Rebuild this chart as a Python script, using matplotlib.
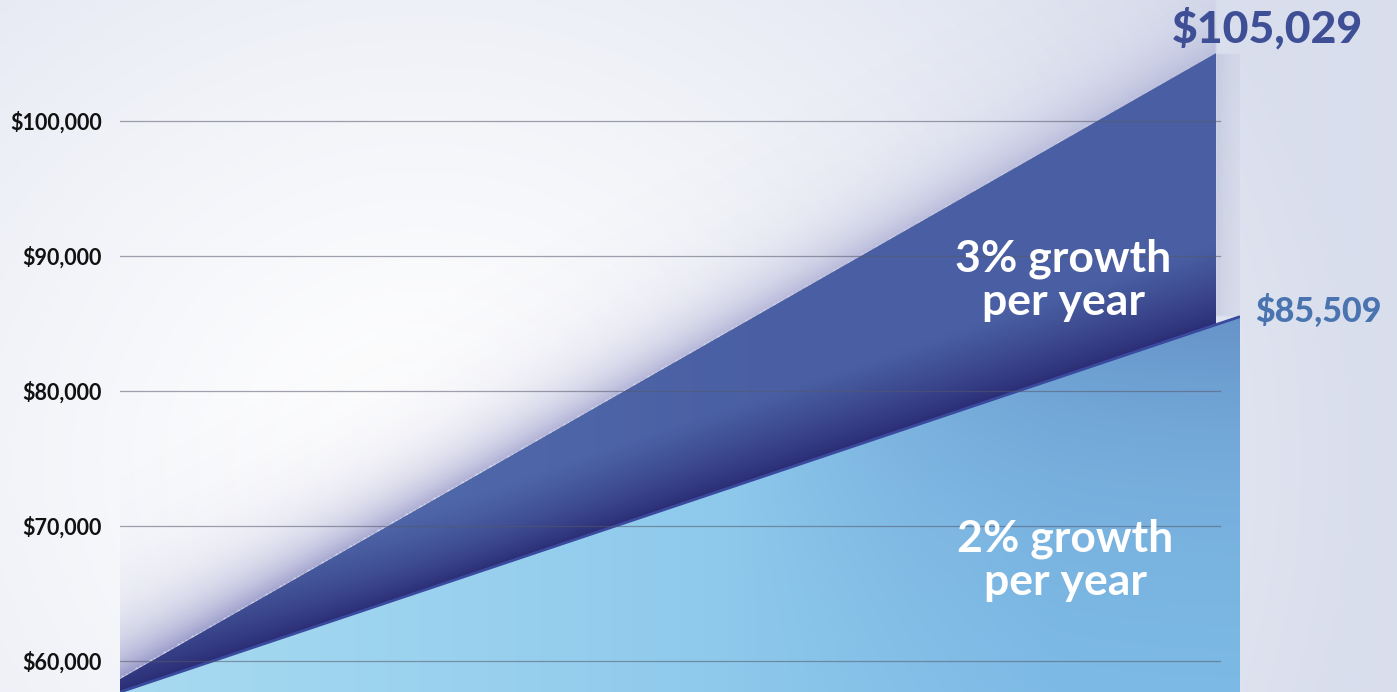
import matplotlib
matplotlib.use("Agg")  # headless
import matplotlib.pyplot as plt
import numpy as np
from matplotlib.patches import Polygon
from matplotlib.colors import to_rgb

# ── data
years = np.array([0, 20])
salary_3pct = [57650, 105029]
salary_2pct = [57700, 85509]
tick_values = [60000, 70000, 80000, 90000, 100000]
tick_labels = ["$60,000", "$70,000", "$80,000", "$90,000", "$100,000"]
end_labels = ["$105,029", "$85,509"]
series_labels = ["3% growth\nper year", "2% growth\nper year"]

W, H = 1397, 692
Y_MIN, Y_MAX = 57704, 108963
SHIFT = 24 / 56          # dark block sits 24 px left of the light one (3D look)
PX_PER_DOLLAR = 135 / 10000

plt.rcParams["font.family"] = ["Lato", "DejaVu Sans"]

fig = plt.figure(figsize=(W / 100, H / 100), dpi=100)


def lerp(c0, c1, t):
    c0, c1 = np.array(to_rgb(c0)), np.array(to_rgb(c1))
    return c0 + (c1 - c0) * np.asarray(t)[..., None]


# ── soft background
bg = fig.add_axes([0, 0, 1, 1])
bg.set_axis_off()
yy, xx = np.mgrid[0:H:4, 0:W:4]
d = np.clip(np.hypot(xx - 420, (yy - 460) * 1.1) / 950, 0, 1) ** 1.3
bg.imshow(lerp("#ffffff", "#d9deed", d), extent=(0, W, H, 0), aspect="auto",
          interpolation="bilinear")
bg.set_xlim(0, W)
bg.set_ylim(H, 0)

# ── main axes
ax = fig.add_axes([120 / W, 0, 1120 / W, 1])
ax.patch.set_alpha(0)
ax.set_xlim(0, 20)
ax.set_ylim(Y_MIN, Y_MAX)
for s in ax.spines.values():
    s.set_visible(False)

x_dark = years - SHIFT
X, Y = np.meshgrid(np.linspace(0, 20, 560), np.linspace(Y_MIN, Y_MAX, 346))
light_top = np.interp(X, years, salary_2pct)
dark_top = np.interp(X, x_dark, salary_3pct, left=salary_3pct[0] - 20000)
u = X / 20
ext = (0, 20, Y_MIN, Y_MAX)

# haze above the dark block
above = (Y - dark_top) * PX_PER_DOLLAR
haze_a = np.where((above > 0) & (X <= x_dark[-1]),
                  0.6 * np.exp(-above / 40) * (1 - 0.6 * u), 0)
haze = np.dstack([lerp("#5a5ca8", "#5a5ca8", u), haze_a])
ax.imshow(haze, extent=ext, origin="lower", aspect="auto", zorder=1,
          interpolation="bilinear")

# shadow to the right of the dark block
right = (X - x_dark[-1]) * 56
sh_a = np.where((right > 0) & (Y > salary_2pct[-1]) & (Y < salary_3pct[-1]),
                0.25 * np.exp(-right / 20), 0)
shadow = np.dstack([lerp("#8088b8", "#8088b8", u), sh_a])
ax.imshow(shadow, extent=ext, origin="lower", aspect="auto", zorder=1,
          interpolation="bilinear")

# dark (3%) block
dark_poly = Polygon([(x_dark[0], Y_MIN - 5000)] + list(zip(x_dark, salary_3pct)) +
                    [(x_dark[-1], Y_MIN - 5000)], closed=True,
                    transform=ax.transData, facecolor="none", edgecolor="none")
ax.add_patch(dark_poly)
dpx = (Y - light_top) * PX_PER_DOLLAR
w = np.clip(dpx / 80, 0, 1) ** 0.8
dark_img = lerp("#2a2c74", "#4a5fa3", w)
dark_img = dark_img + (np.array(to_rgb("#5876b4")) - dark_img) * \
    (0.35 * np.exp(-((u - 0.3) / 0.18) ** 2) * w)[..., None]
im = ax.imshow(dark_img, extent=ext, origin="lower", aspect="auto", zorder=2,
               interpolation="bilinear")
im.set_clip_path(dark_poly)

# light (2%) block
light_poly = Polygon([(years[0], Y_MIN - 5000)] + list(zip(years, salary_2pct)) +
                     [(years[-1], Y_MIN - 5000)], closed=True,
                     transform=ax.transData, facecolor="none", edgecolor="none")
ax.add_patch(light_poly)
light_img = lerp("#a8dbf1", "#80bfe9", np.clip(u * 1.2, 0, 1))
top_dist = (light_top - Y) * PX_PER_DOLLAR
light_img = light_img + (np.array(to_rgb("#6692c8")) - light_img) * \
    (np.clip((u - 0.55) / 0.45, 0, 1) * np.exp(-top_dist / 180))[..., None]
im2 = ax.imshow(light_img, extent=ext, origin="lower", aspect="auto", zorder=3,
                interpolation="bilinear")
im2.set_clip_path(light_poly)
ax.plot(years, salary_2pct, color="#3a4a9e", lw=2, zorder=3.5,
        solid_capstyle="butt")

# ── grid + ticks
for v in tick_values:
    ax.axhline(v, xmin=0, xmax=1100 / 1120, color="#55586a", lw=0.9,
               alpha=0.55, zorder=5)
ax.set_xticks([])
ax.set_yticks(tick_values, tick_labels)
ax.tick_params(axis="y", length=0, pad=13, labelsize=15.5)
for lab in ax.get_yticklabels():
    lab.set_fontweight("bold")
    lab.set_color("#111111")

# ── labels
ax.annotate(end_labels[0], (x_dark[-1], salary_3pct[-1]), xytext=(51, 25),
            textcoords="offset pixels", ha="center", va="center",
            fontsize=32, fontweight="black", color="#3f4f96", zorder=6)
ax.annotate(end_labels[1], (years[-1], salary_2pct[-1]), xytext=(78, 6),
            textcoords="offset pixels", ha="center", va="center",
            fontsize=24.5, fontweight="black", color="#4a74b0", zorder=6)

ax.text(16.84, 88200, series_labels[0], ha="center", va="center",
        fontsize=32, fontweight="bold", color="white", linespacing=1.1,
        zorder=6)
ax.text(16.875, 67480, series_labels[1], ha="center", va="center",
        fontsize=32, fontweight="bold", color="white", linespacing=1.1,
        zorder=6)

fig.savefig("out.png", dpi=100)
